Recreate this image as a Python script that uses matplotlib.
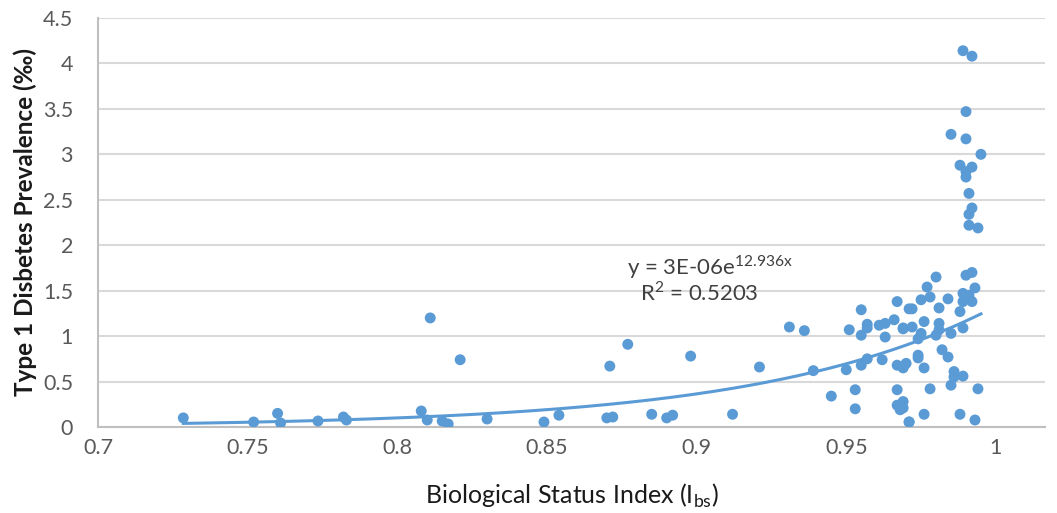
import numpy as np
import matplotlib
matplotlib.use("Agg")
import matplotlib.pyplot as plt

# Data
bsi = [0.7285, 0.752, 0.760, 0.761, 0.7735, 0.782, 0.783, 0.808, 0.810, 0.811,
       0.815, 0.817, 0.821, 0.830, 0.849, 0.854, 0.870, 0.871, 0.872, 0.877,
       0.885, 0.890, 0.892, 0.898, 0.912, 0.921, 0.931, 0.936, 0.939, 0.945,
       0.950, 0.951, 0.953, 0.953, 0.955, 0.957, 0.957, 0.955, 0.955, 0.957,
       0.961, 0.963, 0.966, 0.967, 0.963, 0.962, 0.967, 0.967, 0.968, 0.969,
       0.971, 0.967, 0.969, 0.971,
       0.991, 0.994, 0.992, 0.990, 0.980, 0.977, 0.993, 0.989, 0.991, 0.984,
       0.975, 0.978, 0.989, 0.992, 0.981, 0.972, 0.988, 0.976, 0.969, 0.972,
       0.975, 0.981, 0.981, 0.989, 0.980, 0.985, 0.974, 0.982, 0.984, 0.974,
       0.974, 0.970, 0.969, 0.976, 0.986, 0.986, 0.989, 0.985, 0.978, 0.994,
       0.969, 0.969, 0.976, 0.971, 0.988, 0.993,
       0.989, 0.992, 0.990, 0.985, 0.990, 0.995, 0.988, 0.992, 0.990, 0.990,
       0.991, 0.992, 0.991]
prevalence = [0.10, 0.055, 0.15, 0.044, 0.066, 0.11, 0.077, 0.176, 0.077, 1.20,
              0.066, 0.033, 0.74, 0.088, 0.055, 0.13, 0.10, 0.67, 0.11, 0.91,
              0.14, 0.10, 0.13, 0.78, 0.14, 0.66, 1.10, 1.06, 0.62, 0.34,
              0.63, 1.07, 0.41, 0.20, 1.29, 1.13, 1.09, 1.01, 0.68, 0.75,
              1.12, 1.14, 1.18, 1.38, 0.99, 0.74, 0.41, 0.24, 0.19, 1.09,
              1.30, 0.68, 0.66, 0.055,
              2.22, 2.19, 1.70, 1.67, 1.65, 1.54, 1.53, 1.47, 1.45, 1.41,
              1.40, 1.43, 1.38, 1.38, 1.31, 1.30, 1.27, 1.16, 1.08, 1.10,
              1.03, 1.14, 1.07, 1.09, 1.01, 1.03, 0.97, 0.85, 0.77, 0.79,
              0.76, 0.70, 0.65, 0.65, 0.61, 0.55, 0.56, 0.46, 0.42, 0.42,
              0.28, 0.21, 0.14, 0.055, 0.14, 0.077,
              4.14, 4.08, 3.47, 3.22, 3.17, 3.00, 2.88, 2.86, 2.81, 2.75,
              2.57, 2.41, 2.34]

# Exponential trendline parameters (equation shown in the chart)
trend_a = 3.2e-6
trend_b = 12.936
equation_text = r"y = 3E-06e$^{\mathregular{12.936x}}$"
r2_text = r"R$^{\mathregular{2}}$ = 0.5203"

x_ticks = [0.7, 0.75, 0.8, 0.85, 0.9, 0.95, 1.0]
x_tick_labels = ["0.7", "0.75", "0.8", "0.85", "0.9", "0.95", "1"]
y_ticks = [0, 0.5, 1, 1.5, 2, 2.5, 3, 3.5, 4, 4.5]
y_tick_labels = ["0", "0.5", "1", "1.5", "2", "2.5", "3", "3.5", "4", "4.5"]

plt.rcParams['font.family'] = ['Lato', 'DejaVu Sans']
W, H = 1057, 513
fig = plt.figure(figsize=(W / 100, H / 100), dpi=100)
ax = fig.add_axes([98 / W, 1 - 427 / H, (1045 - 98) / W, (427 - 18) / H])

blue = "#5B9BD5"
ax.scatter(bsi, prevalence, s=62, color=blue, edgecolors="none", zorder=3)

xs = np.linspace(min(bsi), max(bsi), 200)
ax.plot(xs, trend_a * np.exp(trend_b * xs), color=blue, lw=2.2, zorder=2)

ax.set_xlim(0.7, 1.0164)
ax.set_ylim(0, 4.5)
ax.set_xticks(x_ticks)
ax.set_xticklabels(x_tick_labels)
ax.set_yticks(y_ticks)
ax.set_yticklabels(y_tick_labels)
ax.tick_params(axis="both", length=0, labelsize=15.5, colors="#595959")
ax.tick_params(axis="x", pad=8)
ax.tick_params(axis="y", pad=18)

ax.grid(axis="y", color="#D9D9D9", lw=1.5, zorder=0)
ax.set_axisbelow(True)
for side in ["top", "right"]:
    ax.spines[side].set_visible(False)
for side in ["left", "bottom"]:
    ax.spines[side].set_color("#BFBFBF")
    ax.spines[side].set_linewidth(1.5)

ax.set_ylabel("Type 1 Disbetes Prevalence (‰)", fontsize=17.5, color="#1a1a1a",
              fontweight="bold", labelpad=4)
ax.set_xlabel(r"Biological Status Index (I$_{\mathregular{bs}}$)", fontsize=18,
              color="#1a1a1a", labelpad=17)

ax.text(0.9045, 1.76, equation_text, fontsize=16, color="#404040", ha="center", va="center")
ax.text(0.901, 1.48, r2_text, fontsize=16, color="#404040", ha="center", va="center")

fig.savefig("out.png", dpi=100)
